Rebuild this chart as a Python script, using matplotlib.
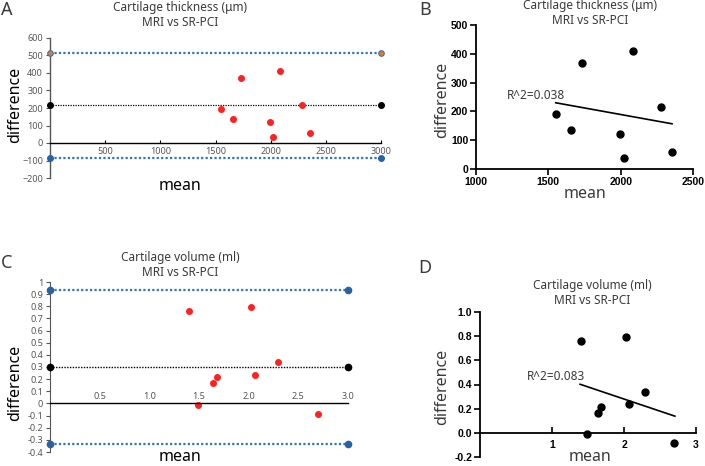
import matplotlib
matplotlib.use("Agg")
import matplotlib.pyplot as plt
import numpy as np

W, H = 705, 466
DPI = 100

# ---------------- data ----------------
thick_mean = [1551, 1657, 1730, 1993, 2021, 2085, 2281, 2355]
thick_diff = [192, 136, 369, 122, 37, 411, 216, 59]
thick_bias = 215
thick_upper = 515
thick_lower = -85
thick_fit_x = [1551, 2355]
thick_fit_y = [230, 157]
thick_r2 = "R^2=0.038"

vol_mean = [1.40, 1.487, 1.637, 1.677, 2.025, 2.068, 2.295, 2.70]
vol_diff = [0.762, -0.011, 0.166, 0.216, 0.791, 0.238, 0.339, -0.084]
vol_bias = 0.30
vol_upper = 0.935
vol_lower = -0.336
vol_fit_x = [1.39, 2.707]
vol_fit_y = [0.402, 0.138]
vol_r2 = "R^2=0.083"

thick_yticks = [-200, -100, 0, 100, 200, 300, 400, 500, 600]
thick_xticks = [500, 1000, 1500, 2000, 2500, 3000]
vol_yticks = [-0.4, -0.3, -0.2, -0.1, 0, 0.1, 0.2, 0.3, 0.4, 0.5, 0.6, 0.7, 0.8, 0.9, 1]
vol_xticks = [0.5, 1.0, 1.5, 2.0, 2.5, 3.0]

TXT = "#3a3a3a"
RED = "#ff2020"
BLUE = "#2e75c4"
BLUE_M = "#2563a8"
ORANGE = "#e8792a"
SANS = ["Noto Sans", "DejaVu Sans"]
BOLD = ["Liberation Sans", "DejaVu Sans"]

fig = plt.figure(figsize=(W / DPI, H / DPI), dpi=DPI)


def rect(l, r, t, b):
    return [l / W, 1 - b / H, (r - l) / W, (b - t) / H]


def ftext(x, y, s, **kw):
    kw.setdefault("family", SANS)
    kw.setdefault("color", TXT)
    fig.text(x / W, 1 - y / H, s, **kw)


# ---------------- Panel A ----------------
axA = fig.add_axes(rect(50, 381, 38, 178))
axA.set_xlim(0, 3000)
axA.set_ylim(-200, 600)
for s in ["top", "right"]:
    axA.spines[s].set_visible(False)
axA.spines["bottom"].set_position(("data", 0))
axA.spines["left"].set_color("#555555")
axA.spines["left"].set_linewidth(1.0)
axA.spines["bottom"].set_linewidth(1.0)
axA.set_yticks(thick_yticks)
axA.set_xticks(thick_xticks)
axA.tick_params(axis="y", direction="out", length=3, labelsize=6.5, labelcolor="#555555", color="#555555", pad=2)
axA.tick_params(axis="x", direction="in", length=2, labelsize=6.5, labelcolor="#555555", pad=3)
for lab in axA.get_xticklabels() + axA.get_yticklabels():
    lab.set_family(SANS)
axA.plot([0, 3000], [thick_upper] * 2, ls=(0, (1, 1)), color=BLUE, lw=1.6, clip_on=False)
axA.plot([0, 3000], [thick_lower] * 2, ls=(0, (1, 1)), color=BLUE, lw=1.6, clip_on=False)
axA.plot([0, 3000], [thick_bias] * 2, ls=(0, (1, 1)), color="black", lw=0.9, clip_on=False)
axA.plot([0, 3000], [thick_upper] * 2, ls="none", marker="o", ms=4, mfc=ORANGE, mec=BLUE, mew=0.8, clip_on=False, zorder=5)
axA.plot([0, 3000], [thick_lower] * 2, ls="none", marker="o", ms=4, mfc=BLUE_M, mec=BLUE_M, clip_on=False, zorder=5)
axA.plot([0, 3000], [thick_bias] * 2, ls="none", marker="o", ms=4, color="black", clip_on=False, zorder=5)
axA.plot(thick_mean, thick_diff, ls="none", marker="o", ms=4, color=RED, mec=RED)

ftext(180, 7, "Cartilage thickness (\u03bcm)", ha="center", va="center", fontsize=8.5)
ftext(180, 22, "MRI vs SR-PCI", ha="center", va="center", fontsize=8.5)
ftext(1, 10, "A", ha="left", va="center", fontsize=13)
ftext(15, 105, "difference", rotation=90, ha="center", va="center", fontsize=11.5, color="black")
ftext(180, 186, "mean", ha="center", va="center", fontsize=11.5, color="black")

# ---------------- Panel B ----------------
axB = fig.add_axes(rect(476, 693, 25, 169))
axB.set_xlim(1000, 2500)
axB.set_ylim(0, 500)
for s in ["top", "right"]:
    axB.spines[s].set_visible(False)
for s in ["left", "bottom"]:
    axB.spines[s].set_linewidth(1.3)
axB.set_xticks([1000, 1500, 2000, 2500])
axB.set_yticks([0, 100, 200, 300, 400, 500])
axB.tick_params(direction="out", length=4, width=1.2, labelsize=7.5, pad=1.5)
for lab in axB.get_xticklabels() + axB.get_yticklabels():
    lab.set_family(BOLD)
    lab.set_fontweight("bold")
axB.plot(thick_mean, thick_diff, ls="none", marker="o", ms=5, color="black", clip_on=False)
axB.plot(thick_fit_x, thick_fit_y, color="black", lw=1.2)
axB.text(1210, 255, thick_r2, ha="left", va="center", fontsize=8.5, color=TXT, family=SANS)

ftext(590, 6, "Cartilage thickness (\u03bcm)", ha="center", va="center", fontsize=8.5)
ftext(590, 21, "MRI vs SR-PCI", ha="center", va="center", fontsize=8.5)
ftext(425, 10, "B", ha="center", va="center", fontsize=13)
ftext(442, 100, "difference", rotation=90, ha="center", va="center", fontsize=11.5)
ftext(585, 194, "mean", ha="center", va="center", fontsize=11.5)

# ---------------- Panel C ----------------
axC = fig.add_axes(rect(50, 348, 282, 452))
axC.set_xlim(0, 3.0)
axC.set_ylim(-0.4, 1.0)
axC.spines["bottom"].set_visible(False)
axC.spines["right"].set_visible(False)
axC.spines["top"].set_position(("data", 0))
axC.spines["top"].set_linewidth(1.0)
axC.spines["left"].set_color("#555555")
axC.xaxis.set_ticks_position("top")
axC.set_yticks(vol_yticks)
axC.set_yticklabels([("%g" % v) for v in vol_yticks])
axC.set_xticks(vol_xticks)
axC.set_xticklabels(["%.1f" % v for v in vol_xticks])
axC.tick_params(axis="y", direction="out", length=3, labelsize=6.5, labelcolor="#555555", color="#555555", pad=2)
axC.tick_params(axis="x", direction="out", length=0, labelsize=6.5, labelcolor="#555555", pad=2)
for lab in axC.get_xticklabels() + axC.get_yticklabels():
    lab.set_family(SANS)
axC.plot([0, 3.0], [vol_upper] * 2, ls=(0, (1, 1)), color=BLUE, lw=1.6, clip_on=False)
axC.plot([0, 3.0], [vol_lower] * 2, ls=(0, (1, 1)), color=BLUE, lw=1.6, clip_on=False)
axC.plot([0, 3.0], [vol_bias] * 2, ls=(0, (1, 1)), color="black", lw=1.0, clip_on=False)
axC.plot([0, 3.0], [vol_upper] * 2, ls="none", marker="o", ms=4.5, color=BLUE_M, clip_on=False, zorder=5)
axC.plot([0, 3.0], [vol_lower] * 2, ls="none", marker="o", ms=4.5, color=BLUE_M, clip_on=False, zorder=5)
axC.plot([0, 3.0], [vol_bias] * 2, ls="none", marker="o", ms=4.5, color="black", clip_on=False, zorder=5)
axC.plot(vol_mean, vol_diff, ls="none", marker="o", ms=4, color=RED, mec=RED)

ftext(180, 258, "Cartilage volume (ml)", ha="center", va="center", fontsize=8.5)
ftext(180, 273, "MRI vs SR-PCI", ha="center", va="center", fontsize=8.5)
ftext(1, 263, "C", ha="left", va="center", fontsize=13)
ftext(15, 383, "difference", rotation=90, ha="center", va="center", fontsize=11.5, color="black")
ftext(180, 457, "mean", ha="center", va="center", fontsize=11.5, color="black")

# ---------------- Panel D ----------------
axD = fig.add_axes(rect(480, 696, 312, 457))
axD.set_xlim(0, 3)
axD.set_ylim(-0.2, 1.0)
for s in ["top", "right"]:
    axD.spines[s].set_visible(False)
axD.spines["bottom"].set_position(("data", 0))
for s in ["left", "bottom"]:
    axD.spines[s].set_linewidth(1.3)
axD.set_xticks([1, 2, 3])
axD.set_yticks([-0.2, 0.0, 0.2, 0.4, 0.6, 0.8, 1.0])
axD.set_yticklabels(["%.1f" % v for v in [-0.2, 0.0, 0.2, 0.4, 0.6, 0.8, 1.0]])
axD.tick_params(axis="y", direction="out", length=4, width=1.2, labelsize=7.5, pad=1.5)
axD.tick_params(axis="x", direction="in", length=4, width=1.2, labelsize=7.5, pad=5)
for lab in axD.get_xticklabels() + axD.get_yticklabels():
    lab.set_family(BOLD)
    lab.set_fontweight("bold")
axD.plot(vol_mean, vol_diff, ls="none", marker="o", ms=5, color="black", clip_on=False, zorder=5)
axD.plot(vol_fit_x, vol_fit_y, color="black", lw=1.2)
axD.text(0.65, 0.47, vol_r2, ha="left", va="center", fontsize=8.5, color=TXT, family=SANS)

ftext(592, 285, "Cartilage volume (ml)", ha="center", va="center", fontsize=8.5)
ftext(592, 300, "MRI vs SR-PCI", ha="center", va="center", fontsize=8.5)
ftext(425, 268, "D", ha="center", va="center", fontsize=13)
ftext(442, 387, "difference", rotation=90, ha="center", va="center", fontsize=11.5)
ftext(590, 457, "mean", ha="center", va="center", fontsize=11.5)

fig.savefig("out.png", dpi=DPI)
